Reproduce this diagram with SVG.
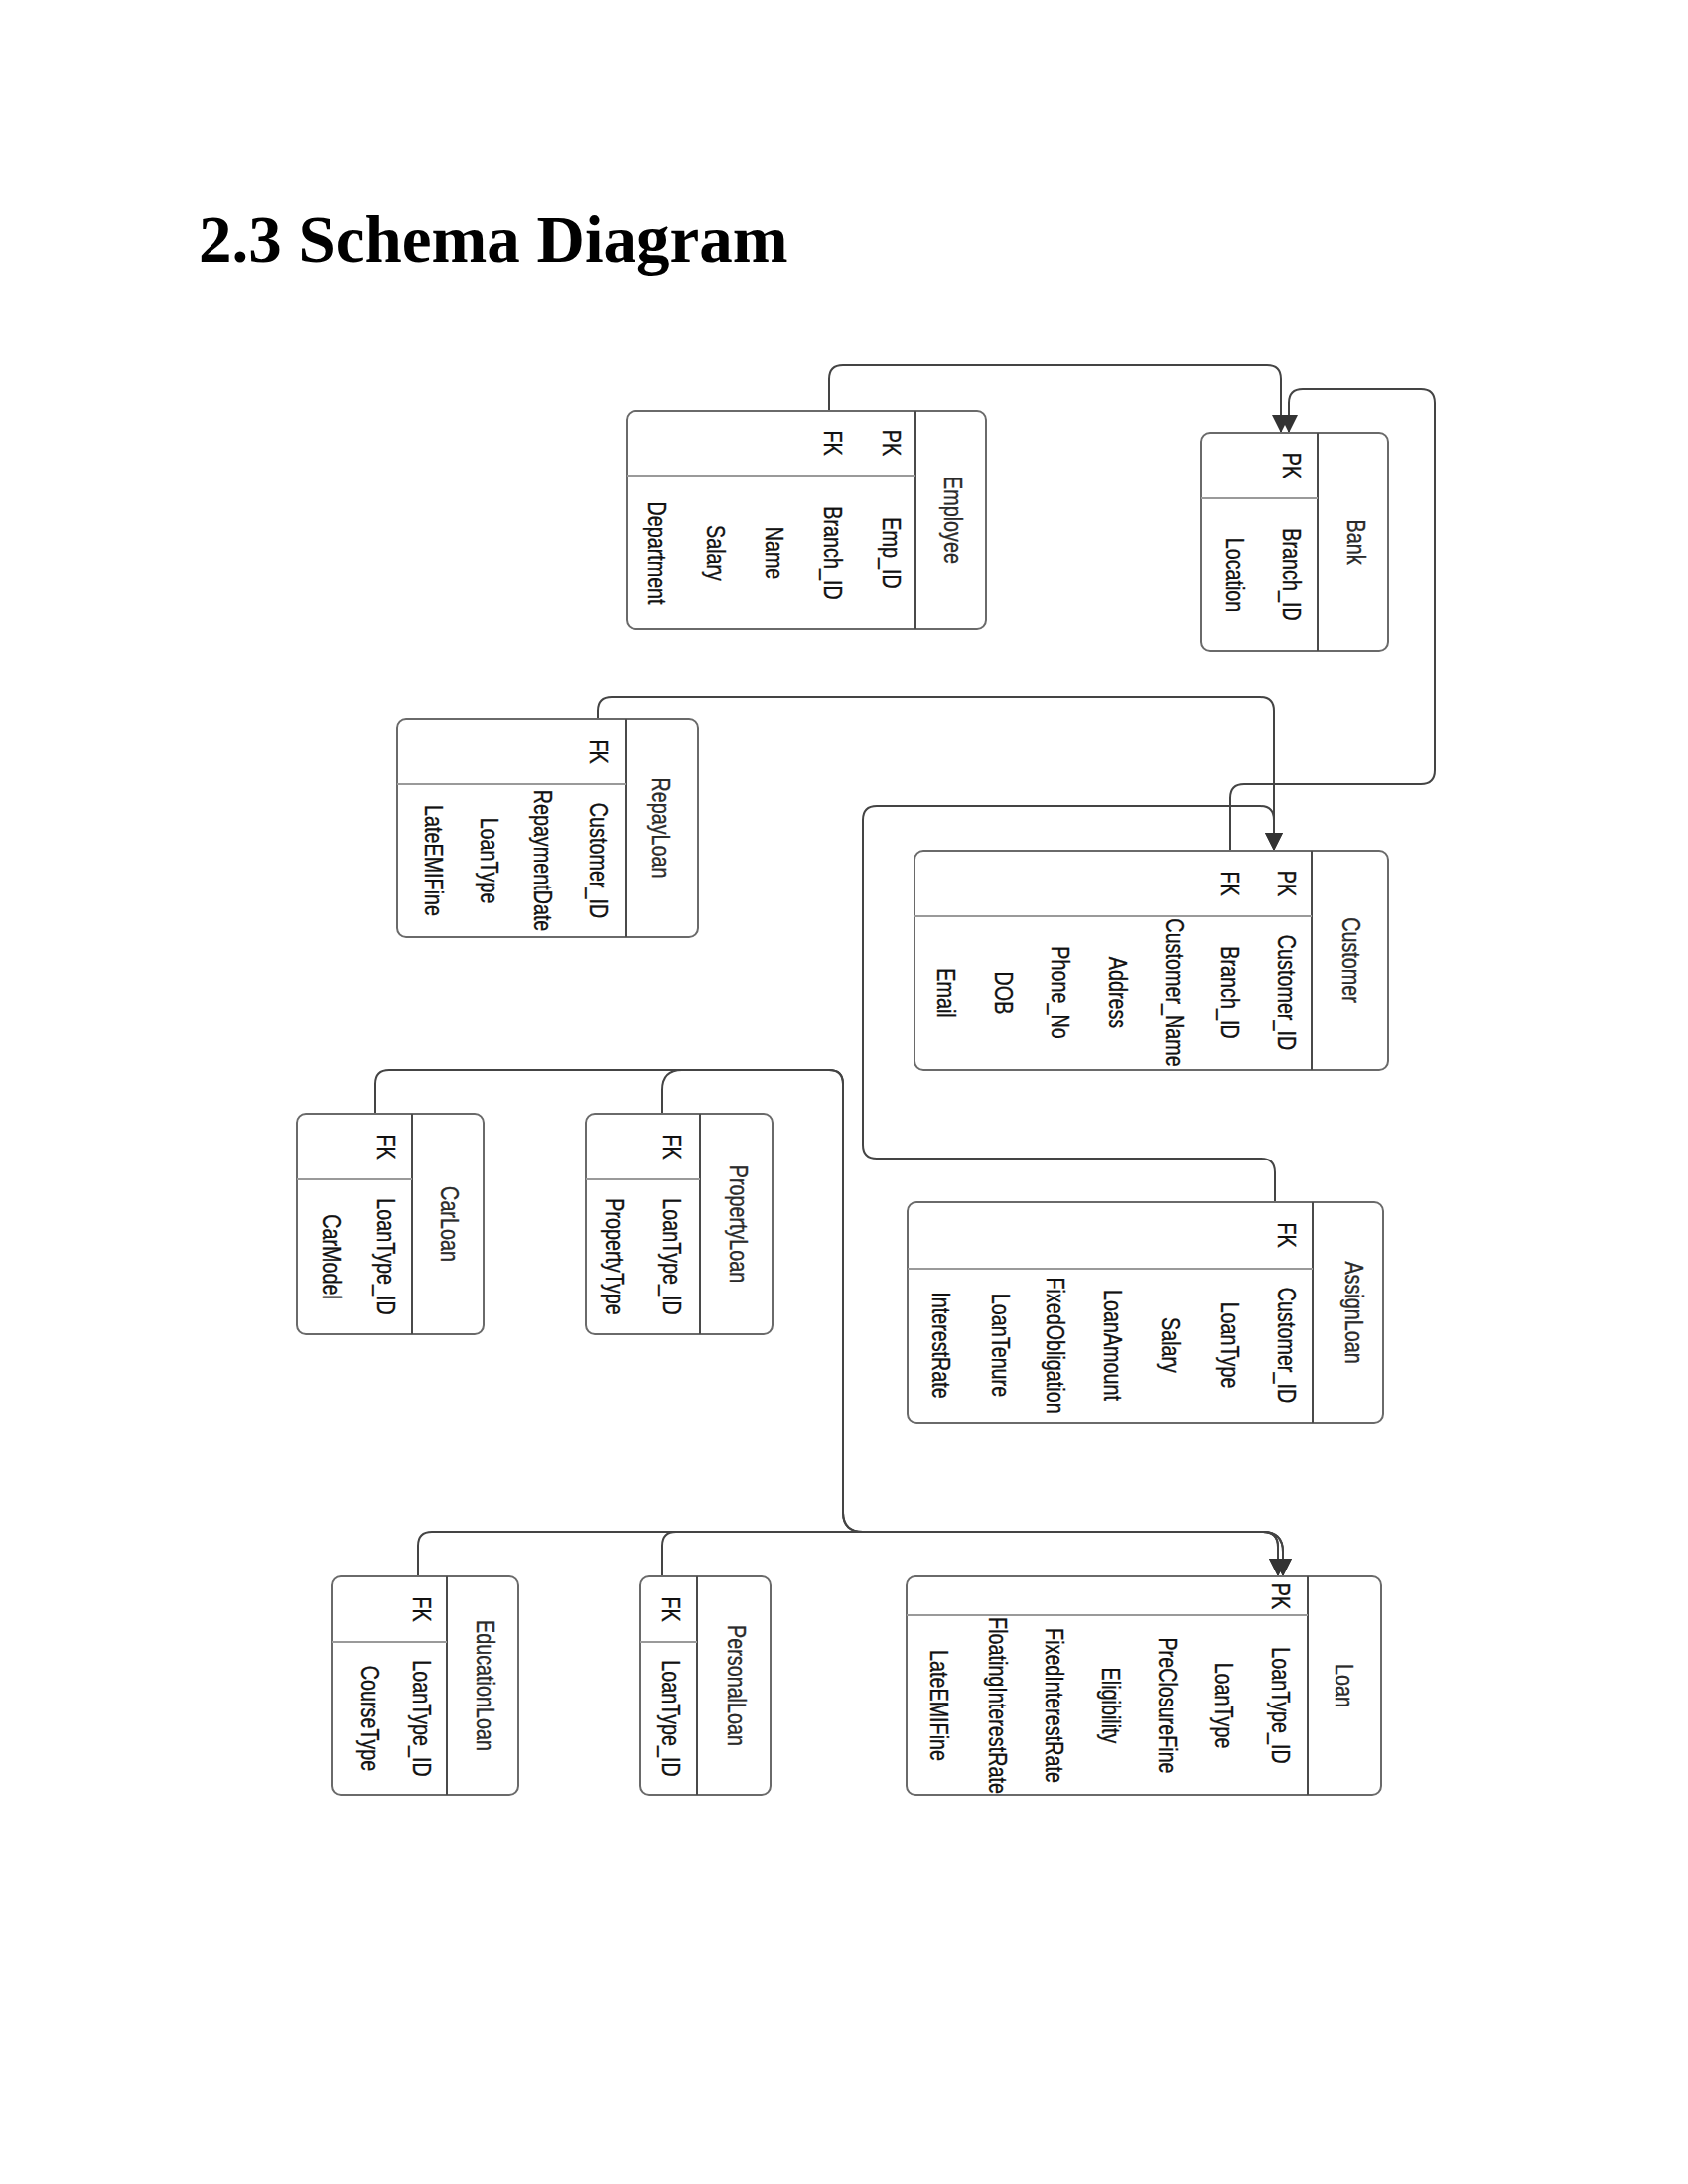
<svg xmlns="http://www.w3.org/2000/svg" width="1700" height="2200" viewBox="0 0 1700 2200">
<style>
.box{fill:#fff;stroke:#6a6a6a;stroke-width:2}
.hs{stroke:#4a4a4a;stroke-width:2}
.ks{stroke:#9a9a9a;stroke-width:2}
.t{font-family:"Liberation Sans",Arial,sans-serif;font-size:26px;fill:#111;stroke:#111;stroke-width:0.35;text-anchor:middle}
.h{fill:#2a2a2a;stroke:#2a2a2a}
.c{fill:none;stroke:#444;stroke-width:2}
.title{font-family:"Liberation Serif","Times New Roman",serif;font-weight:bold;font-size:67px;fill:#000}
</style>
<defs>
<marker id="arr" markerUnits="userSpaceOnUse" markerWidth="18" markerHeight="18" refX="18" refY="9" orient="auto">
<path d="M0,0 L18,9 L0,18 z" fill="#333"/>
</marker>
</defs>
<rect width="1700" height="2200" fill="#fff"/>
<text class="title" x="200" y="264">2.3 Schema Diagram</text>

<g id="connectors">
<path class="c" d="M835,414 V382 Q835,368 849,368 H1276 Q1290,368 1290,382 V436" marker-end="url(#arr)"/>
<path class="c" d="M1239,857 V804 Q1239,790 1253,790 H1431 Q1445,790 1445,776 V406 Q1445,392 1431,392 H1312 Q1298,392 1298,406 V436" marker-end="url(#arr)"/>
<path class="c" d="M602,724 V716 Q602,702 616,702 H1269 Q1283,702 1283,716 V857" marker-end="url(#arr)"/>
<path class="c" d="M1284,1211 V1181 Q1284,1167 1270,1167 H883 Q869,1167 869,1153 V826 Q869,812 883,812 H1269 Q1283,812 1283,826 V857" marker-end="url(#arr)"/>
<path class="c" d="M378,1122 V1092 Q378,1078 392,1078 H835 Q849,1078 849,1092 V1523 Q849,1543 869,1543 H1272 Q1287,1543 1287,1558 V1588" marker-end="url(#arr)"/>
<path class="c" d="M667,1122 V1098 Q667,1078 687,1078 H835 Q849,1078 849,1092 V1523 Q849,1543 869,1543 H1272 Q1292,1543 1292,1563 V1588" marker-end="url(#arr)"/>
<path class="c" d="M421,1588 V1557 Q421,1543 435,1543 H1272 Q1287,1543 1287,1558 V1588" marker-end="url(#arr)"/>
<path class="c" d="M667,1588 V1557 Q667,1543 681,1543 H1272 Q1292,1543 1292,1563 V1588" marker-end="url(#arr)"/>
</g>

<g id="Employee">
<rect class="box" x="631" y="414" width="362" height="220" rx="9"/>
<line class="hs" x1="922" y1="414" x2="922" y2="634"/>
<line class="ks" x1="631" y1="479" x2="922" y2="479"/>
<text class="t h" transform="translate(960,524) rotate(90) scale(0.76,1)" dy="9">Employee</text>
<text class="t" transform="translate(898,446) rotate(90) scale(0.76,1)" dy="9">PK</text>
<text class="t" transform="translate(839,446) rotate(90) scale(0.76,1)" dy="9">FK</text>
<text class="t" transform="translate(898,557) rotate(90) scale(0.76,1)" dy="9">Emp_ID</text>
<text class="t" transform="translate(839,557) rotate(90) scale(0.76,1)" dy="9">Branch_ID</text>
<text class="t" transform="translate(780,557) rotate(90) scale(0.76,1)" dy="9">Name</text>
<text class="t" transform="translate(721,557) rotate(90) scale(0.76,1)" dy="9">Salary</text>
<text class="t" transform="translate(662,557) rotate(90) scale(0.76,1)" dy="9">Department</text>
</g>

<g id="Bank">
<rect class="box" x="1210" y="436" width="188" height="220" rx="9"/>
<line class="hs" x1="1327" y1="436" x2="1327" y2="656"/>
<line class="ks" x1="1210" y1="502" x2="1327" y2="502"/>
<text class="t h" transform="translate(1366,546) rotate(90) scale(0.76,1)" dy="9">Bank</text>
<text class="t" transform="translate(1301,469) rotate(90) scale(0.76,1)" dy="9">PK</text>
<text class="t" transform="translate(1301,579) rotate(90) scale(0.76,1)" dy="9">Branch_ID</text>
<text class="t" transform="translate(1244,579) rotate(90) scale(0.76,1)" dy="9">Location</text>
</g>

<g id="RepayLoan">
<rect class="box" x="400" y="724" width="303" height="220" rx="9"/>
<line class="hs" x1="630" y1="724" x2="630" y2="944"/>
<line class="ks" x1="400" y1="790" x2="630" y2="790"/>
<text class="t h" transform="translate(666,834) rotate(90) scale(0.76,1)" dy="9">RepayLoan</text>
<text class="t" transform="translate(603,757) rotate(90) scale(0.76,1)" dy="9">FK</text>
<text class="t" transform="translate(603,867) rotate(90) scale(0.76,1)" dy="9">Customer_ID</text>
<text class="t" transform="translate(547,867) rotate(90) scale(0.76,1)" dy="9">RepaymentDate</text>
<text class="t" transform="translate(493,867) rotate(90) scale(0.76,1)" dy="9">LoanType</text>
<text class="t" transform="translate(437,867) rotate(90) scale(0.76,1)" dy="9">LateEMIFine</text>
</g>

<g id="Customer">
<rect class="box" x="921" y="857" width="477" height="221" rx="9"/>
<line class="hs" x1="1321" y1="857" x2="1321" y2="1078"/>
<line class="ks" x1="921" y1="923" x2="1321" y2="923"/>
<text class="t h" transform="translate(1361,967) rotate(90) scale(0.76,1)" dy="9">Customer</text>
<text class="t" transform="translate(1296,890) rotate(90) scale(0.76,1)" dy="9">PK</text>
<text class="t" transform="translate(1239,890) rotate(90) scale(0.76,1)" dy="9">FK</text>
<text class="t" transform="translate(1296,1000) rotate(90) scale(0.76,1)" dy="9">Customer_ID</text>
<text class="t" transform="translate(1239,1000) rotate(90) scale(0.76,1)" dy="9">Branch_ID</text>
<text class="t" transform="translate(1183,1000) rotate(90) scale(0.76,1)" dy="9">Customer_Name</text>
<text class="t" transform="translate(1126,1000) rotate(90) scale(0.76,1)" dy="9">Address</text>
<text class="t" transform="translate(1068,1000) rotate(90) scale(0.76,1)" dy="9">Phone_No</text>
<text class="t" transform="translate(1011,1000) rotate(90) scale(0.76,1)" dy="9">DOB</text>
<text class="t" transform="translate(953,1000) rotate(90) scale(0.76,1)" dy="9">Email</text>
</g>

<g id="CarLoan">
<rect class="box" x="299" y="1122" width="188" height="222" rx="9"/>
<line class="hs" x1="415" y1="1122" x2="415" y2="1344"/>
<line class="ks" x1="299" y1="1188" x2="415" y2="1188"/>
<text class="t h" transform="translate(453,1233) rotate(90) scale(0.76,1)" dy="9">CarLoan</text>
<text class="t" transform="translate(389,1155) rotate(90) scale(0.76,1)" dy="9">FK</text>
<text class="t" transform="translate(389,1266) rotate(90) scale(0.76,1)" dy="9">LoanType_ID</text>
<text class="t" transform="translate(334,1266) rotate(90) scale(0.76,1)" dy="9">CarModel</text>
</g>

<g id="PropertyLoan">
<rect class="box" x="590" y="1122" width="188" height="222" rx="9"/>
<line class="hs" x1="705" y1="1122" x2="705" y2="1344"/>
<line class="ks" x1="590" y1="1188" x2="705" y2="1188"/>
<text class="t h" transform="translate(744,1233) rotate(90) scale(0.76,1)" dy="9">PropertyLoan</text>
<text class="t" transform="translate(677,1155) rotate(90) scale(0.76,1)" dy="9">FK</text>
<text class="t" transform="translate(677,1266) rotate(90) scale(0.76,1)" dy="9">LoanType_ID</text>
<text class="t" transform="translate(619,1266) rotate(90) scale(0.76,1)" dy="9">PropertyType</text>
</g>

<g id="AssignLoan">
<rect class="box" x="914" y="1211" width="479" height="222" rx="9"/>
<line class="hs" x1="1322" y1="1211" x2="1322" y2="1433"/>
<line class="ks" x1="914" y1="1278" x2="1322" y2="1278"/>
<text class="t h" transform="translate(1364,1322) rotate(90) scale(0.76,1)" dy="9">AssignLoan</text>
<text class="t" transform="translate(1296,1244) rotate(90) scale(0.76,1)" dy="9">FK</text>
<text class="t" transform="translate(1296,1355) rotate(90) scale(0.76,1)" dy="9">Customer_ID</text>
<text class="t" transform="translate(1239,1355) rotate(90) scale(0.76,1)" dy="9">LoanType</text>
<text class="t" transform="translate(1179,1355) rotate(90) scale(0.76,1)" dy="9">Salary</text>
<text class="t" transform="translate(1121,1355) rotate(90) scale(0.76,1)" dy="9">LoanAmount</text>
<text class="t" transform="translate(1063,1355) rotate(90) scale(0.76,1)" dy="9">FixedObligation</text>
<text class="t" transform="translate(1008,1355) rotate(90) scale(0.76,1)" dy="9">LoanTenure</text>
<text class="t" transform="translate(948,1355) rotate(90) scale(0.76,1)" dy="9">InterestRate</text>
</g>

<g id="EducationLoan">
<rect class="box" x="334" y="1588" width="188" height="220" rx="9"/>
<line class="hs" x1="450" y1="1588" x2="450" y2="1808"/>
<line class="ks" x1="334" y1="1654" x2="450" y2="1654"/>
<text class="t h" transform="translate(489,1698) rotate(90) scale(0.76,1)" dy="9">EducationLoan</text>
<text class="t" transform="translate(425,1621) rotate(90) scale(0.76,1)" dy="9">FK</text>
<text class="t" transform="translate(425,1731) rotate(90) scale(0.76,1)" dy="9">LoanType_ID</text>
<text class="t" transform="translate(373,1731) rotate(90) scale(0.76,1)" dy="9">CourseType</text>
</g>

<g id="PersonalLoan">
<rect class="box" x="645" y="1588" width="131" height="220" rx="9"/>
<line class="hs" x1="702" y1="1588" x2="702" y2="1808"/>
<line class="ks" x1="645" y1="1654" x2="702" y2="1654"/>
<text class="t h" transform="translate(742,1698) rotate(90) scale(0.76,1)" dy="9">PersonalLoan</text>
<text class="t" transform="translate(676,1621) rotate(90) scale(0.76,1)" dy="9">FK</text>
<text class="t" transform="translate(676,1731) rotate(90) scale(0.76,1)" dy="9">LoanType_ID</text>
</g>

<g id="Loan">
<rect class="box" x="913" y="1588" width="478" height="220" rx="9"/>
<line class="hs" x1="1317" y1="1588" x2="1317" y2="1808"/>
<line class="ks" x1="913" y1="1627" x2="1317" y2="1627"/>
<text class="t h" transform="translate(1354,1698) rotate(90) scale(0.76,1)" dy="9">Loan</text>
<text class="t" transform="translate(1290,1608) rotate(90) scale(0.76,1)" dy="9">PK</text>
<text class="t" transform="translate(1290,1718) rotate(90) scale(0.76,1)" dy="9">LoanType_ID</text>
<text class="t" transform="translate(1233,1718) rotate(90) scale(0.76,1)" dy="9">LoanType</text>
<text class="t" transform="translate(1176,1718) rotate(90) scale(0.76,1)" dy="9">PreClosureFine</text>
<text class="t" transform="translate(1119,1718) rotate(90) scale(0.76,1)" dy="9">Eligibility</text>
<text class="t" transform="translate(1062,1718) rotate(90) scale(0.76,1)" dy="9">FixedInterestRate</text>
<text class="t" transform="translate(1005,1718) rotate(90) scale(0.76,1)" dy="9">FloatingInterestRate</text>
<text class="t" transform="translate(946,1718) rotate(90) scale(0.76,1)" dy="9">LateEMIFine</text>
</g>
</svg>
